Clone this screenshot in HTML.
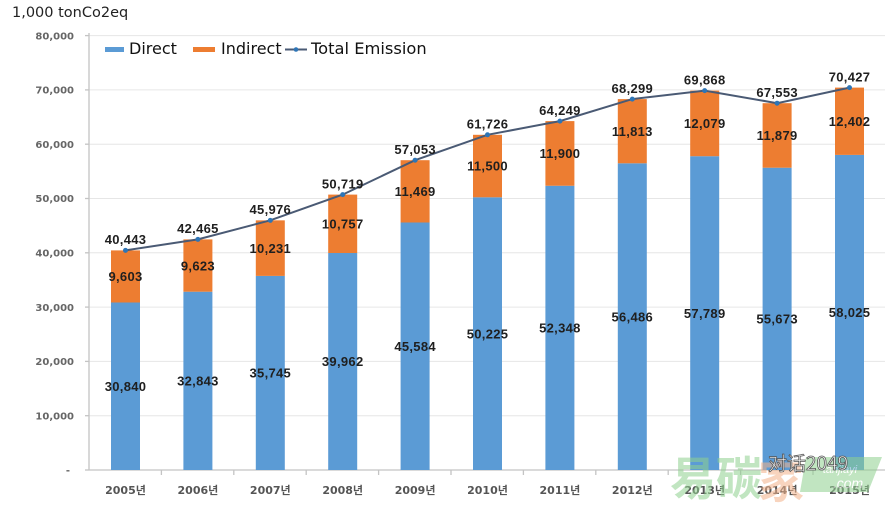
<!DOCTYPE html>
<html><head><meta charset="utf-8"><style>
html,body{margin:0;padding:0;background:#fff;}
svg{display:block;}
</style></head><body>
<svg width="887" height="506" viewBox="0 0 887 506" xmlns="http://www.w3.org/2000/svg">
<rect width="887" height="506" fill="#fff"/>
<text x="12" y="17" font-family="DejaVu Sans, sans-serif" font-size="14.5" fill="#222">1,000 tonCo2eq</text>
<!-- gridlines -->
<g stroke="#e6e6e6" stroke-width="1">
<line x1="89" y1="35.6" x2="885" y2="35.6"/>
<line x1="89" y1="89.9" x2="885" y2="89.9"/>
<line x1="89" y1="144.2" x2="885" y2="144.2"/>
<line x1="89" y1="198.5" x2="885" y2="198.5"/>
<line x1="89" y1="252.8" x2="885" y2="252.8"/>
<line x1="89" y1="307.1" x2="885" y2="307.1"/>
<line x1="89" y1="361.4" x2="885" y2="361.4"/>
<line x1="89" y1="415.7" x2="885" y2="415.7"/>
</g>
<!-- axes -->
<g stroke="#c4c4c4" stroke-width="1.3">
<line x1="89" y1="33" x2="89" y2="470"/>
<line x1="89" y1="470" x2="885" y2="470"/>
<line x1="85" y1="35.6" x2="89" y2="35.6"/>
<line x1="85" y1="89.9" x2="89" y2="89.9"/>
<line x1="85" y1="144.2" x2="89" y2="144.2"/>
<line x1="85" y1="198.5" x2="89" y2="198.5"/>
<line x1="85" y1="252.8" x2="89" y2="252.8"/>
<line x1="85" y1="307.1" x2="89" y2="307.1"/>
<line x1="85" y1="361.4" x2="89" y2="361.4"/>
<line x1="85" y1="415.7" x2="89" y2="415.7"/>
<line x1="85" y1="470" x2="89" y2="470"/>
<line x1="161.4" y1="470" x2="161.4" y2="475"/>
<line x1="233.8" y1="470" x2="233.8" y2="475"/>
<line x1="306.2" y1="470" x2="306.2" y2="475"/>
<line x1="378.6" y1="470" x2="378.6" y2="475"/>
<line x1="451" y1="470" x2="451" y2="475"/>
<line x1="523.4" y1="470" x2="523.4" y2="475"/>
<line x1="595.8" y1="470" x2="595.8" y2="475"/>
<line x1="668.2" y1="470" x2="668.2" y2="475"/>
<line x1="740.6" y1="470" x2="740.6" y2="475"/>
<line x1="813" y1="470" x2="813" y2="475"/>
</g>
<!-- y labels -->
<g font-family="DejaVu Sans, sans-serif" font-size="10" font-weight="bold" fill="#666" text-anchor="end">
<text x="74" y="39.3">80,000</text>
<text x="74" y="93.6">70,000</text>
<text x="74" y="147.9">60,000</text>
<text x="74" y="202.2">50,000</text>
<text x="74" y="256.5">40,000</text>
<text x="74" y="310.8">30,000</text>
<text x="74" y="365.1">20,000</text>
<text x="74" y="419.4">10,000</text>
<text x="70" y="473.7">-</text>
</g>
<!-- bars -->
<g>
<rect x="111" y="302.5" width="29" height="167.5" fill="#5b9bd5"/><rect x="111" y="250.4" width="29" height="52.1" fill="#ed7d31"/>
<rect x="183.4" y="291.7" width="29" height="178.3" fill="#5b9bd5"/><rect x="183.4" y="239.4" width="29" height="52.3" fill="#ed7d31"/>
<rect x="255.8" y="275.9" width="29" height="194.1" fill="#5b9bd5"/><rect x="255.8" y="220.35" width="29" height="55.55" fill="#ed7d31"/>
<rect x="328.2" y="253" width="29" height="217" fill="#5b9bd5"/><rect x="328.2" y="194.6" width="29" height="58.4" fill="#ed7d31"/>
<rect x="400.6" y="222.5" width="29" height="247.5" fill="#5b9bd5"/><rect x="400.6" y="160.2" width="29" height="62.3" fill="#ed7d31"/>
<rect x="473" y="197.3" width="29" height="272.7" fill="#5b9bd5"/><rect x="473" y="134.8" width="29" height="62.5" fill="#ed7d31"/>
<rect x="545.4" y="185.75" width="29" height="284.25" fill="#5b9bd5"/><rect x="545.4" y="121.1" width="29" height="64.65" fill="#ed7d31"/>
<rect x="617.8" y="163.3" width="29" height="306.7" fill="#5b9bd5"/><rect x="617.8" y="99.1" width="29" height="64.2" fill="#ed7d31"/>
<rect x="690.2" y="156.2" width="29" height="313.8" fill="#5b9bd5"/><rect x="690.2" y="90.6" width="29" height="65.6" fill="#ed7d31"/>
<rect x="762.6" y="167.7" width="29" height="302.3" fill="#5b9bd5"/><rect x="762.6" y="103.2" width="29" height="64.5" fill="#ed7d31"/>
<rect x="835" y="154.9" width="29" height="315.1" fill="#5b9bd5"/><rect x="835" y="87.6" width="29" height="67.3" fill="#ed7d31"/>
</g>
<!-- total line -->
<polyline fill="none" stroke="#4a5a74" stroke-width="2" points="125.5,250.4 197.9,239.4 270.3,220.35 342.7,194.6 415.1,160.2 487.5,134.8 559.9,121.1 632.3,99.1 704.7,90.6 777.1,103.2 849.5,87.6"/>
<g fill="#2e75b6">
<circle cx="125.5" cy="250.4" r="2.5"/><circle cx="197.9" cy="239.4" r="2.5"/><circle cx="270.3" cy="220.35" r="2.5"/><circle cx="342.7" cy="194.6" r="2.5"/><circle cx="415.1" cy="160.2" r="2.5"/><circle cx="487.5" cy="134.8" r="2.5"/><circle cx="559.9" cy="121.1" r="2.5"/><circle cx="632.3" cy="99.1" r="2.5"/><circle cx="704.7" cy="90.6" r="2.5"/><circle cx="777.1" cy="103.2" r="2.5"/><circle cx="849.5" cy="87.6" r="2.5"/>
</g>
<!-- data labels -->
<g font-family="Liberation Sans, sans-serif" font-size="13" font-weight="bold" fill="#1f1f1f" text-anchor="middle" letter-spacing="0.3" transform="translate(0,0.7)">
<text x="125.5" y="243.4">40,443</text>
<text x="197.9" y="232.4">42,465</text>
<text x="270.3" y="213.4">45,976</text>
<text x="342.7" y="187.6">50,719</text>
<text x="415.1" y="153.2">57,053</text>
<text x="487.5" y="127.8">61,726</text>
<text x="559.9" y="114.1">64,249</text>
<text x="632.3" y="92.1">68,299</text>
<text x="704.7" y="83.6">69,868</text>
<text x="777.1" y="96.2">67,553</text>
<text x="849.5" y="80.6">70,427</text>

<text x="125.5" y="280.5">9,603</text>
<text x="197.9" y="269.6">9,623</text>
<text x="270.3" y="252.1">10,231</text>
<text x="342.7" y="227.8">10,757</text>
<text x="415.1" y="195.4">11,469</text>
<text x="487.5" y="170">11,500</text>
<text x="559.9" y="157.4">11,900</text>
<text x="632.3" y="135.2">11,813</text>
<text x="704.7" y="127.4">12,079</text>
<text x="777.1" y="139.5">11,879</text>
<text x="849.5" y="125.3">12,402</text>

<text x="125.5" y="390.3">30,840</text>
<text x="197.9" y="384.9">32,843</text>
<text x="270.3" y="377">35,745</text>
<text x="342.7" y="365.5">39,962</text>
<text x="415.1" y="350.3">45,584</text>
<text x="487.5" y="337.7">50,225</text>
<text x="559.9" y="331.9">52,348</text>
<text x="632.3" y="320.7">56,486</text>
<text x="704.7" y="317.1">57,789</text>
<text x="777.1" y="322.9">55,673</text>
<text x="849.5" y="316.5">58,025</text>
</g>
<!-- x labels -->
<g font-family="DejaVu Sans, 'Noto Sans CJK KR', sans-serif" font-size="11" font-weight="bold" fill="#555" text-anchor="middle">
<text x="125.5" y="494">2005년</text>
<text x="197.9" y="494">2006년</text>
<text x="270.3" y="494">2007년</text>
<text x="342.7" y="494">2008년</text>
<text x="415.1" y="494">2009년</text>
<text x="487.5" y="494">2010년</text>
<text x="559.9" y="494">2011년</text>
<text x="632.3" y="494">2012년</text>
<text x="704.7" y="494">2013년</text>
<text x="777.1" y="494">2014년</text>
<text x="849.5" y="494">2015년</text>
</g>
<!-- legend -->
<rect x="105" y="47" width="19" height="5" fill="#5b9bd5"/>
<text x="129" y="54" font-family="DejaVu Sans, sans-serif" font-size="16" fill="#111">Direct</text>
<rect x="193" y="47" width="22" height="5" fill="#ed7d31"/>
<text x="221" y="54" font-family="DejaVu Sans, sans-serif" font-size="16" fill="#111">Indirect</text>
<line x1="285" y1="49.5" x2="307" y2="49.5" stroke="#4a5a74" stroke-width="2"/>
<circle cx="296" cy="49.5" r="2.3" fill="#2e75b6"/>
<text x="311" y="54" font-family="DejaVu Sans, sans-serif" font-size="16.3" fill="#111">Total Emission</text>
<!-- watermark -->
<g opacity="0.55">
<path d="M806 457 L882 457 L868 492 L800 492 Z" fill="#8fd08f"/>
<text x="840" y="473" font-family="Liberation Sans, sans-serif" font-size="11" fill="#fff" font-style="italic" text-anchor="middle">tanjiayi</text>
<text x="848" y="488" font-family="Liberation Sans, sans-serif" font-size="14" fill="#fff" font-style="italic" text-anchor="middle">.com</text>
<text x="670" y="495" font-family="'Noto Sans CJK SC', sans-serif" font-size="46" font-weight="bold" fill="#8fd08f">易碳</text>
<text x="758" y="498" font-family="'Noto Sans CJK SC', sans-serif" font-size="46" font-weight="bold" fill="#f3b28a">家</text>
</g>
<text x="768" y="470" font-family="'Noto Sans CJK SC', sans-serif" font-size="19" fill="#fff" stroke="#555" stroke-width="0.8">对话2049</text>
</svg>
</body></html>
